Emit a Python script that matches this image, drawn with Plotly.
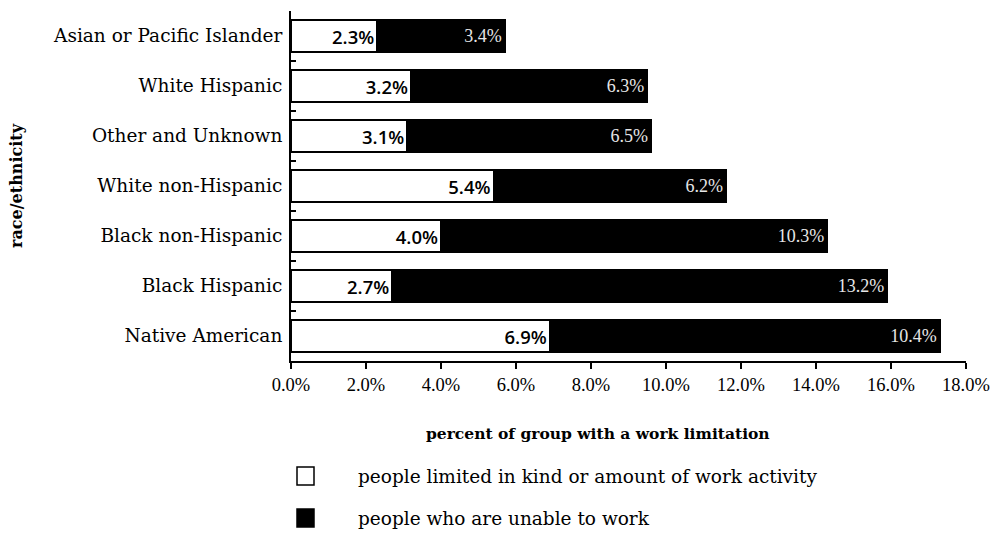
import plotly.graph_objects as go

# Work limitation rates by race/ethnicity (percent of group)
groups = ["Asian or Pacific Islander", "White Hispanic", "Other and Unknown",
          "White non-Hispanic", "Black non-Hispanic", "Black Hispanic", "Native American"]
limited = [2.3, 3.2, 3.1, 5.4, 4.0, 2.7, 6.9]
unable = [3.4, 6.3, 6.5, 6.2, 10.3, 13.2, 10.4]
series_names = ["people limited in kind or amount of work activity",
                "people who are unable to work"]
x_ticks = [0, 2, 4, 6, 8, 10, 12, 14, 16, 18]

FONT = "DejaVu Serif"
TIMES = "Liberation Serif"

fig = go.Figure()
fig.add_trace(go.Bar(
    y=groups, x=limited, orientation="h", name=series_names[0],
    marker=dict(color="white", line=dict(color="black", width=2)),
    text=[f"{v:.1f}%" for v in limited], textposition="inside",
    insidetextanchor="end", textangle=0,
    textfont=dict(family="Open Sans", size=18.5, color="black", weight=600),
    showlegend=False,
))
fig.add_trace(go.Bar(
    y=groups, x=unable, orientation="h", name=series_names[1],
    marker=dict(color="black", line=dict(color="black", width=2)),
    text=[f"{v:.1f}%" for v in unable], textposition="inside",
    insidetextanchor="end", textangle=0,
    textfont=dict(family=TIMES, size=18, color="#e6e6e6"),
    showlegend=False,
))

fig.update_layout(
    barmode="stack", bargap=0.36,
    width=991, height=558,
    margin=dict(l=291, r=25, t=11, b=197, autoexpand=False),
    paper_bgcolor="white", plot_bgcolor="white",
    font=dict(family=FONT, color="black"),
)
fig.update_xaxes(
    range=[0, 18], tickvals=x_ticks, ticktext=[f"{v:.1f}%" for v in x_ticks],
    showgrid=False, zeroline=False, showline=True, linecolor="black", linewidth=2,
    ticks="outside", ticklen=6, tickwidth=2, tickcolor="black",
    tickfont=dict(family=TIMES, size=18.5), automargin=False,
)
fig.update_yaxes(
    type="category", categoryorder="array", categoryarray=groups,
    range=[len(groups) - 0.5, -0.5],
    showgrid=False, zeroline=False, showline=True, linecolor="black", linewidth=2,
    ticks="inside", tickson="boundaries", ticklen=5, tickwidth=2, tickcolor="black",
    tickfont=dict(family=FONT, size=18.5), ticklabelstandoff=3, automargin=False,
)

# axis titles
fig.add_annotation(text="<b>percent of group with a work limitation</b>",
                   xref="paper", yref="paper", x=(598 - 291) / 675, y=-(433 - 361) / 350,
                   showarrow=False, font=dict(family=FONT, size=15.5), yanchor="middle")
fig.add_annotation(text="<b>race/ethnicity</b>", textangle=-90,
                   xref="paper", yref="paper", x=-(291 - 16) / 675, y=(361 - 186) / 350,
                   showarrow=False, font=dict(family=FONT, size=16),
                   xanchor="center", yanchor="middle")

# legend swatches and labels
legend_y = [476, 518]
legend_fill = ["white", "black"]
for name, yy, fill in zip(series_names, legend_y, legend_fill):
    fig.add_shape(type="rect", xref="paper", yref="paper",
                  x0=(297 - 291) / 675, x1=(314 - 291) / 675,
                  y0=(361 - yy - 9) / 350, y1=(361 - yy + 9) / 350,
                  line=dict(color="black", width=1.5), fillcolor=fill)
    fig.add_annotation(text=name, xref="paper", yref="paper",
                       x=(356 - 291) / 675, y=(361 - yy) / 350,
                       xanchor="left", yanchor="middle", showarrow=False,
                       font=dict(family=FONT, size=18.5))

fig.write_html("out.html")
